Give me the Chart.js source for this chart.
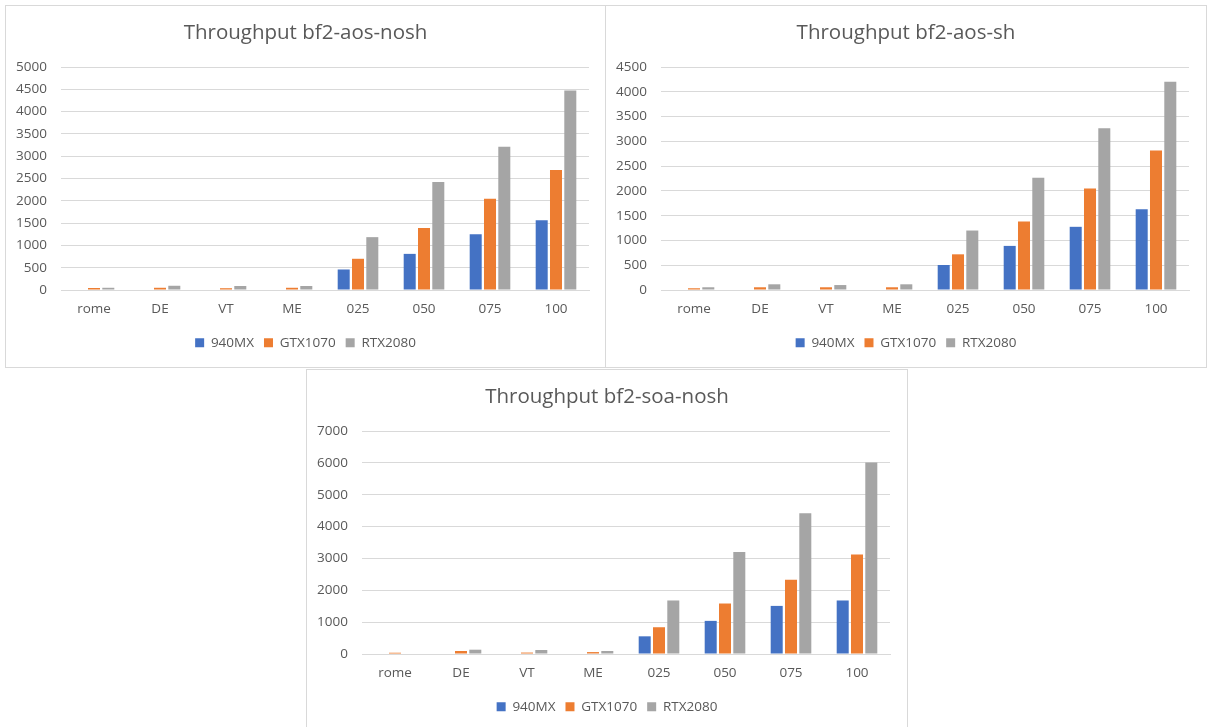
<!DOCTYPE html>
<html>
<head>
<meta charset="utf-8">
<title>Throughput bf2</title>
<script src="https://cdn.jsdelivr.net/npm/chart.js@4/dist/chart.umd.min.js"></script>
<style>
  html, body { margin: 0; padding: 0; background: #ffffff; }
  body { width: 1208px; height: 727px; overflow: hidden; position: relative; }
  .panel {
    position: absolute;
    box-sizing: border-box;
    width: 601px;
    height: 363px;
    border: 1px solid #d9d9d9;
    background: #ffffff;
  }
  .panel canvas { display: block; }
</style>
</head>
<body>
<div class="panel" style="left:5px; top:5px;"><canvas id="aosNosh" width="599" height="361"></canvas></div>
<div class="panel" style="left:605px; top:5px; width:602px;"><canvas id="aosSh" width="600" height="361"></canvas></div>
<div class="panel" style="left:306px; top:369px; width:602px;"><canvas id="soaNosh" width="600" height="361"></canvas></div>
<script>
// Categories along the x axis (shared by all three charts)
const categories = ['rome', 'DE', 'VT', 'ME', '025', '050', '075', '100'];
const seriesNames = ['940MX', 'GTX1070', 'RTX2080'];
const seriesColors = ['#4472C4', '#ED7D31', '#A5A5A5'];

// Throughput bf2-aos-nosh
const aosNosh940MX   = [0, 0, 0, 0, 460, 810, 1250, 1565];
const aosNoshGTX1070 = [45, 50, 40, 50, 700, 1390, 2045, 2690];
const aosNoshRTX2080 = [50, 95, 90, 90, 1185, 2420, 3210, 4475];

// Throughput bf2-aos-sh
const aosSh940MX   = [0, 0, 0, 0, 505, 890, 1275, 1630];
const aosShGTX1070 = [35, 55, 55, 55, 720, 1380, 2050, 2815];
const aosShRTX2080 = [55, 115, 100, 115, 1200, 2265, 3265, 4200];

// Throughput bf2-soa-nosh
const soaNosh940MX   = [0, 0, 0, 0, 555, 1040, 1510, 1680];
const soaNoshGTX1070 = [40, 95, 45, 60, 840, 1585, 2330, 3125];
const soaNoshRTX2080 = [0, 135, 125, 95, 1680, 3200, 4415, 6010];

// Value axis ranges
const aosNoshAxis = { max: 5000, step: 500 };
const aosShAxis   = { max: 4500, step: 500 };
const soaNoshAxis = { max: 7000, step: 1000 };

Chart.defaults.font.family = '"Open Sans", "Noto Sans", sans-serif';
Chart.defaults.color = '#595959';

function makeChart(canvasId, titleText, seriesValues, axis) {
  const textColor = '#595959';
  const gridColor = '#d9d9d9';
  const canvas = document.getElementById(canvasId);
  // keep the plot area inset on the right while title/legend centre on the whole panel
  const rightGutter = canvas.width - 583;
  return new Chart(canvas, {
    type: 'bar',
    data: {
      labels: categories,
      datasets: seriesValues.map((vals, i) => ({
        label: seriesNames[i],
        data: vals,
        backgroundColor: seriesColors[i],
        borderWidth: 0,
        categoryPercentage: 0.65,
        barPercentage: 0.84
      }))
    },
    options: {
      responsive: false,
      animation: false,
      events: [],
      layout: { padding: { left: 0, right: 0, top: 0, bottom: 7.5 } },
      plugins: {
        title: {
          display: true,
          text: titleText,
          color: textColor,
          font: { size: 20.5, weight: 'normal' },
          padding: { top: 15, bottom: 21.4 }
        },
        legend: {
          display: true,
          position: 'bottom',
          labels: {
            color: textColor,
            font: { size: 13.5 },
            boxWidth: 9,
            boxHeight: 9,
            padding: 10
          }
        },
        tooltip: { enabled: false }
      },
      scales: {
        x: {
          grid: { display: false, drawTicks: false },
          border: { display: true, color: gridColor },
          ticks: { color: textColor, font: { size: 13.5 }, padding: 11, maxRotation: 0 },
          afterFit: (scale) => { scale.height = 36; }
        },
        y: {
          position: 'left',
          min: 0,
          max: axis.max,
          grid: { color: gridColor, lineWidth: 1, drawTicks: false },
          border: { display: false },
          ticks: {
            stepSize: axis.step,
            color: textColor,
            font: { size: 13.5 },
            padding: 14,
            callback: (v) => String(v)
          },
          afterFit: (scale) => { scale.width = 55; }
        },
        gutter: {
          type: 'linear',
          position: 'right',
          display: true,
          grid: { display: false, drawTicks: false },
          border: { display: false },
          ticks: { display: false },
          afterFit: (scale) => { scale.width = rightGutter; }
        }
      }
    }
  });
}

makeChart('aosNosh', 'Throughput bf2-aos-nosh', [aosNosh940MX, aosNoshGTX1070, aosNoshRTX2080], aosNoshAxis);
makeChart('aosSh', 'Throughput bf2-aos-sh', [aosSh940MX, aosShGTX1070, aosShRTX2080], aosShAxis);
makeChart('soaNosh', 'Throughput bf2-soa-nosh', [soaNosh940MX, soaNoshGTX1070, soaNoshRTX2080], soaNoshAxis);
</script>
</body>
</html>
